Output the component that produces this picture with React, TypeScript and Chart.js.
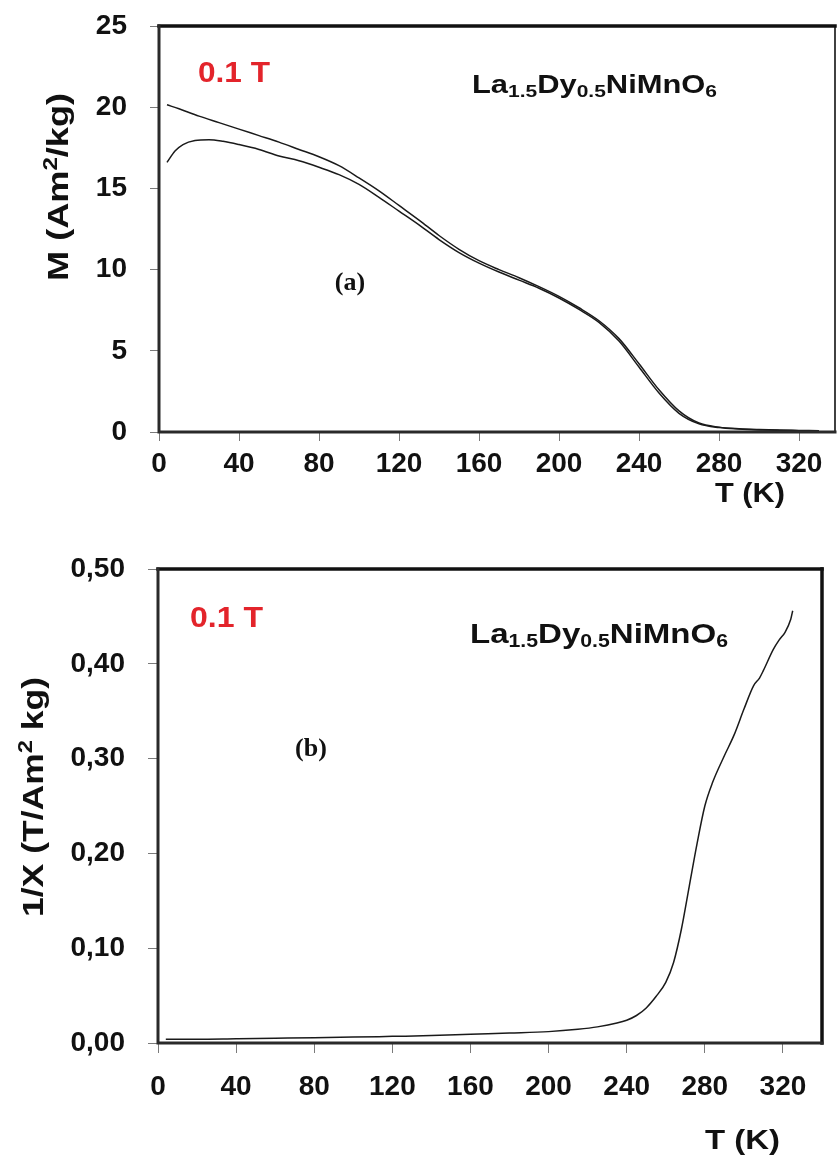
import React, { useEffect, useRef } from 'react';
import { Chart, registerables } from 'chart.js';

Chart.register(...registerables);

// ---------- data ----------
const T_FC = [4, 10, 20, 30, 40, 50, 60, 70, 80, 90, 100, 110, 120, 130, 140, 150, 160, 170, 180, 190, 200, 210, 220, 230, 240, 250, 260, 270, 280, 290, 300, 310, 320, 330];
const M_FC = [20.15, 19.9, 19.45, 19.05, 18.65, 18.25, 17.85, 17.4, 16.95, 16.4, 15.65, 14.85, 13.95, 13.05, 12.1, 11.25, 10.55, 10.0, 9.5, 8.95, 8.35, 7.65, 6.85, 5.75, 4.2, 2.6, 1.3, 0.55, 0.3, 0.2, 0.15, 0.12, 0.1, 0.08];

const T_ZFC = [4, 8, 12, 18, 25, 32, 40, 50, 60, 70, 80, 90, 100, 110, 120, 130, 140, 150, 160, 170, 180, 190, 200, 210, 220, 230, 240, 250, 260, 270, 280, 290, 300, 310, 320, 330];
const M_ZFC = [16.6, 17.3, 17.7, 17.95, 18.0, 17.9, 17.7, 17.4, 17.0, 16.7, 16.3, 15.85, 15.25, 14.45, 13.6, 12.75, 11.85, 11.05, 10.4, 9.85, 9.35, 8.85, 8.25, 7.55, 6.75, 5.6, 4.0, 2.4, 1.15, 0.5, 0.27, 0.18, 0.13, 0.1, 0.08, 0.06];

const T_INV = [4, 20, 40, 60, 80, 100, 120, 140, 160, 180, 200, 215, 225, 235, 240, 245, 250, 255, 260, 264, 268, 272, 276, 280, 284, 290, 295, 300, 305, 308, 310, 315, 318, 321, 324, 325];
const INV_CHI = [0.004, 0.004, 0.0045, 0.005, 0.0055, 0.0062, 0.007, 0.0078, 0.0092, 0.0105, 0.012, 0.0145, 0.017, 0.021, 0.024, 0.029, 0.037, 0.049, 0.064, 0.085, 0.12, 0.165, 0.21, 0.25, 0.275, 0.303, 0.325, 0.352, 0.377, 0.385, 0.393, 0.415, 0.425, 0.433, 0.447, 0.456];

const T_TICKS = [0, 40, 80, 120, 160, 200, 240, 280, 320];
const M_TICKS = [0, 5, 10, 15, 20, 25];
const INV_TICKS = [0, 0.1, 0.2, 0.3, 0.4, 0.5];

// ---------- text helpers ----------
type Part = { t: string; sub?: boolean; sup?: boolean };

function drawParts(
  ctx: CanvasRenderingContext2D,
  parts: Part[],
  x: number,
  y: number,
  size: number,
  family: string,
  color: string,
  opts: { align?: 'left' | 'center'; target?: number; rotate?: boolean } = {}
) {
  ctx.save();
  const fontFor = (p: Part) => `bold ${p.sub || p.sup ? Math.round(size * 0.66) : size}px ${family}`;
  let w = 0;
  const widths = parts.map((p) => {
    ctx.font = fontFor(p);
    const m = ctx.measureText(p.t).width;
    w += m;
    return m;
  });
  const sx = opts.target ? opts.target / w : 1;
  ctx.translate(x, y);
  if (opts.rotate) ctx.rotate(-Math.PI / 2);
  ctx.scale(sx, 1);
  ctx.fillStyle = color;
  ctx.textBaseline = 'alphabetic';
  ctx.textAlign = 'left';
  let cx = opts.align === 'center' ? -w / 2 : 0;
  parts.forEach((p, i) => {
    ctx.font = fontFor(p);
    const dy = p.sub ? size * 0.14 : p.sup ? -size * 0.36 : 0;
    ctx.fillText(p.t, cx, dy);
    cx += widths[i];
  });
  ctx.restore();
}

const SANS = "'Liberation Sans', Arial, sans-serif";
const SERIF = "'Liberation Serif', 'Times New Roman', serif";
const FORMULA: Part[] = [
  { t: 'La' }, { t: '1.5', sub: true }, { t: 'Dy' }, { t: '0.5', sub: true }, { t: 'NiMnO' }, { t: '6', sub: true },
];

type Deco = {
  yTitle: Part[];
  yTitleX: number;
  yTitleY: number;
  yTitleLen: number;
  field: { x: number; y: number; w: number; size: number };
  formula: { x: number; y: number; w: number; size: number };
  tk: { x: number; y: number; w: number };
  label: { t: string; x: number; y: number };
  rightWidth: number;
};

function decoPlugin(d: Deco) {
  return {
    id: 'deco',
    afterDatasetsDraw(chart: any) {
      const ctx: CanvasRenderingContext2D = chart.ctx;
      const a = chart.chartArea;
      ctx.save();
      ctx.lineCap = 'square';
      // frame
      ctx.strokeStyle = '#111';
      ctx.lineWidth = 3.5;
      ctx.beginPath();
      ctx.moveTo(a.left, a.top);
      ctx.lineTo(a.right, a.top);
      ctx.stroke();
      ctx.lineWidth = d.rightWidth;
      ctx.beginPath();
      ctx.moveTo(a.right, a.top);
      ctx.lineTo(a.right, a.bottom);
      ctx.stroke();
      ctx.strokeStyle = '#2a2a2a';
      ctx.lineWidth = 3;
      ctx.beginPath();
      ctx.moveTo(a.left, a.top);
      ctx.lineTo(a.left, a.bottom);
      ctx.lineTo(a.right, a.bottom);
      ctx.stroke();
      ctx.restore();

      drawParts(ctx, d.yTitle, d.yTitleX, d.yTitleY, 30, SANS, '#111', { align: 'center', target: d.yTitleLen, rotate: true });
      drawParts(ctx, [{ t: '0.1 T' }], d.field.x, d.field.y, d.field.size, SANS, '#e3242b', { target: d.field.w });
      drawParts(ctx, FORMULA, d.formula.x, d.formula.y, d.formula.size, SANS, '#111', { target: d.formula.w });
      drawParts(ctx, [{ t: 'T (K)' }], d.tk.x, d.tk.y, 28, SANS, '#111', { target: d.tk.w });
      ctx.save();
      ctx.font = `bold 26px ${SERIF}`;
      ctx.fillStyle = '#111';
      ctx.textAlign = 'center';
      ctx.textBaseline = 'alphabetic';
      ctx.fillText(d.label.t, d.label.x, d.label.y);
      ctx.restore();
    },
  };
}

function makeConfig(o: {
  series: { xs: number[]; ys: number[] }[];
  xMax: number;
  yMax: number;
  yTicks: number[];
  fmt: (v: number) => string;
  padTop: number;
  padRight: number;
  yWidth: number;
  xHeight: number;
  xTickLen: number;
  xPad: number;
  yTickLen: number;
  deco: Deco;
}) {
  const tickFont = { family: SANS, size: 28, weight: 'bold' as const };
  return {
    type: 'line' as const,
    data: {
      datasets: o.series.map((s) => ({
        data: s.xs.map((x, i) => ({ x, y: s.ys[i] })),
        borderColor: '#1a1a1a',
        borderWidth: 1.5,
        pointRadius: 0,
        fill: false,
        cubicInterpolationMode: 'monotone' as const,
      })),
    },
    options: {
      responsive: false,
      animation: false as const,
      devicePixelRatio: 1,
      layout: { padding: { left: 0, top: o.padTop, right: o.padRight, bottom: 0 } },
      plugins: { legend: { display: false }, tooltip: { enabled: false } },
      scales: {
        x: {
          type: 'linear' as const,
          min: 0,
          max: o.xMax,
          afterBuildTicks: (s: any) => { s.ticks = T_TICKS.map((v) => ({ value: v })); },
          afterFit: (s: any) => { s.height = o.xHeight; s.paddingLeft = 0; s.paddingRight = 0; },
          ticks: { font: tickFont, color: '#111', padding: o.xPad, maxRotation: 0, autoSkip: false, callback: (v: any) => String(v) },
          grid: { drawOnChartArea: false, tickLength: o.xTickLen, color: '#7a7a7a', lineWidth: 1 },
          border: { display: false },
        },
        y: {
          type: 'linear' as const,
          min: 0,
          max: o.yMax,
          afterBuildTicks: (s: any) => { s.ticks = o.yTicks.map((v) => ({ value: v })); },
          afterFit: (s: any) => { s.width = o.yWidth; s.paddingTop = 0; s.paddingBottom = 0; },
          ticks: { font: tickFont, color: '#111', padding: 23, autoSkip: false, callback: (v: any) => o.fmt(Number(v)) },
          grid: { drawOnChartArea: false, tickLength: o.yTickLen, color: '#7a7a7a', lineWidth: 1 },
          border: { display: false },
        },
      },
    },
    plugins: [decoPlugin(o.deco)],
  };
}

function ChartCanvas({ config, width, height, top }: { config: any; width: number; height: number; top: number }) {
  const ref = useRef<HTMLCanvasElement | null>(null);
  useEffect(() => {
    if (!ref.current) return;
    const chart = new Chart(ref.current, config);
    return () => chart.destroy();
  }, [config]);
  return (
    <canvas
      ref={ref}
      width={width}
      height={height}
      style={{ position: 'absolute', left: 0, top, width, height, display: 'block' }}
    />
  );
}

const topConfig = makeConfig({
  series: [
    { xs: T_FC, ys: M_FC },
    { xs: T_ZFC, ys: M_ZFC },
  ],
  xMax: 338,
  yMax: 25,
  yTicks: M_TICKS,
  fmt: (v) => String(Math.round(v)),
  padTop: 26,
  padRight: 2,
  yWidth: 159,
  xHeight: 88,
  xTickLen: 9,
  xPad: 6,
  yTickLen: 9,
  deco: {
    yTitle: [{ t: 'M (Am' }, { t: '2', sup: true }, { t: '/kg)' }],
    yTitleX: 68,
    yTitleY: 187,
    yTitleLen: 188,
    field: { x: 198, y: 82, w: 72, size: 30 },
    formula: { x: 472, y: 93, w: 245, size: 25 },
    tk: { x: 715, y: 502, w: 70 },
    label: { t: '(a)', x: 350, y: 290 },
    rightWidth: 1.6,
  },
});

const OFF = 520;
const bottomConfig = makeConfig({
  series: [{ xs: T_INV, ys: INV_CHI }],
  xMax: 340,
  yMax: 0.5,
  yTicks: INV_TICKS,
  fmt: (v) => v.toFixed(2).replace('.', ','),
  padTop: 49,
  padRight: 15,
  yWidth: 158,
  xHeight: 119,
  xTickLen: 10,
  xPad: 17,
  yTickLen: 10,
  deco: {
    yTitle: [{ t: '1/X (T/Am' }, { t: '2', sup: true }, { t: ' kg)' }],
    yTitleX: 43,
    yTitleY: 797 - OFF,
    yTitleLen: 240,
    field: { x: 190, y: 627 - OFF, w: 73, size: 30 },
    formula: { x: 470, y: 643 - OFF, w: 258, size: 28 },
    tk: { x: 705, y: 1149 - OFF, w: 75 },
    label: { t: '(b)', x: 311, y: 756 - OFF },
    rightWidth: 3.5,
  },
});

export default function App() {
  return (
    <div style={{ position: 'absolute', left: 0, top: 0, width: 837, height: 1162, background: '#fff' }}>
      <ChartCanvas config={topConfig} width={837} height={520} top={0} />
      <ChartCanvas config={bottomConfig} width={837} height={642} top={OFF} />
    </div>
  );
}
